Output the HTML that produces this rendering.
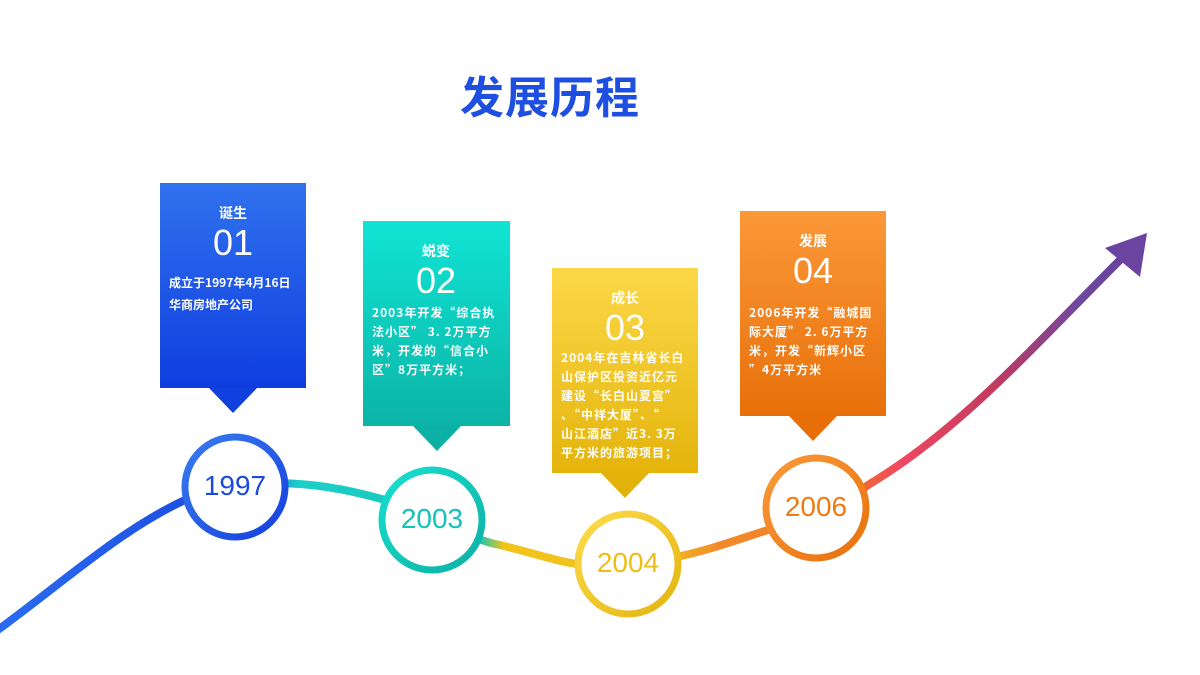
<!DOCTYPE html>
<html><head><meta charset="utf-8"><style>
html,body{margin:0;padding:0;background:#fff;}
body{width:1200px;height:675px;position:relative;overflow:hidden;font-family:"Liberation Sans","Noto Sans CJK SC",sans-serif;}
.title{position:absolute;left:0;width:1100px;top:62px;text-align:center;font-size:44px;font-weight:bold;color:#1f4fe0;letter-spacing:1px;}
.card{position:absolute;width:146px;height:205px;color:#fff;}
.card .h{position:absolute;top:20px;width:100%;text-align:center;font-size:14px;font-weight:bold;}
.card .n{position:absolute;top:36px;width:100%;text-align:center;font-size:36px;line-height:44px;}
.card .b{position:absolute;top:90px;left:9px;font-size:12px;font-weight:bold;line-height:19px;letter-spacing:1px;white-space:nowrap;font-family:"Noto Sans CJK SC",sans-serif;}
.yr{position:absolute;font-size:28px;text-align:center;width:120px;}
</style></head><body>
<div class="title">发展历程</div>
<svg width="1200" height="675" style="position:absolute;left:0;top:0">
<defs>
<linearGradient id="ln" x1="0" y1="0" x2="1200" y2="0" gradientUnits="userSpaceOnUse">
<stop offset="0" stop-color="#2a6cf0"/><stop offset="0.2" stop-color="#1a48e0"/>
<stop offset="0.25" stop-color="#1ccfc8"/><stop offset="0.4" stop-color="#18c4b4"/>
<stop offset="0.42" stop-color="#f2c418"/><stop offset="0.55" stop-color="#f0c020"/>
<stop offset="0.6" stop-color="#f28a2a"/><stop offset="0.7" stop-color="#f07a20"/>
<stop offset="0.75" stop-color="#f04860"/><stop offset="0.83" stop-color="#c03a60"/>
<stop offset="0.9" stop-color="#6e48a0"/><stop offset="1" stop-color="#5a3a90"/>
</linearGradient>
<linearGradient id="g1" x1="0" y1="0" x2="0" y2="1"><stop offset="0" stop-color="#3072ee"/><stop offset="1" stop-color="#0f3ddf"/></linearGradient>
<linearGradient id="g2" x1="0" y1="0" x2="0" y2="1"><stop offset="0" stop-color="#10e4d4"/><stop offset="1" stop-color="#0cb4a6"/></linearGradient>
<linearGradient id="g3" x1="0" y1="0" x2="0" y2="1"><stop offset="0" stop-color="#fcd848"/><stop offset="1" stop-color="#e4b40c"/></linearGradient>
<linearGradient id="g4" x1="0" y1="0" x2="0" y2="1"><stop offset="0" stop-color="#fb9838"/><stop offset="1" stop-color="#e8700a"/></linearGradient>
<linearGradient id="c1" x1="0" y1="0" x2="1" y2="1"><stop offset="0" stop-color="#3a7cf0"/><stop offset="1" stop-color="#1440de"/></linearGradient>
<linearGradient id="c2" x1="0" y1="0" x2="1" y2="1"><stop offset="0" stop-color="#18e0d0"/><stop offset="1" stop-color="#0cb0a4"/></linearGradient>
<linearGradient id="c3" x1="0" y1="0" x2="1" y2="1"><stop offset="0" stop-color="#fcdc4c"/><stop offset="1" stop-color="#e4b410"/></linearGradient>
<linearGradient id="c4" x1="0" y1="0" x2="1" y2="1"><stop offset="0" stop-color="#fb9a3a"/><stop offset="1" stop-color="#e8700c"/></linearGradient>
</defs>
<path d="M-5,632 C60,585 120,530 185,500 C230,480 300,475 385,500 C430,515 470,540 500,545 C540,555 560,562 578,564 C660,570 720,545 768,530 C820,515 850,500 868,485 C960,430 1030,350 1122,258" fill="none" stroke="url(#ln)" stroke-width="8" stroke-linecap="round"/>
<polygon points="1147,233 1105,248 1140,277" fill="#6a44a0"/>
<circle cx="235" cy="487" r="50" fill="#fff" stroke="url(#c1)" stroke-width="7"/>
<circle cx="432" cy="520" r="50" fill="#fff" stroke="url(#c2)" stroke-width="7"/>
<circle cx="628" cy="564" r="50" fill="#fff" stroke="url(#c3)" stroke-width="7"/>
<circle cx="816" cy="508" r="50" fill="#fff" stroke="url(#c4)" stroke-width="7"/>
<rect x="160" y="183" width="146" height="205" fill="url(#g1)"/>
<polygon points="209,388 257,388 233,413" fill="#1140df"/>
<rect x="363" y="221" width="147" height="205" fill="url(#g2)"/>
<polygon points="413,426 461,426 437,451" fill="#0cb0a4"/>
<rect x="552" y="268" width="146" height="205" fill="url(#g3)"/>
<polygon points="601,473 649,473 625,498" fill="#e2b20a"/>
<rect x="740" y="211" width="146" height="205" fill="url(#g4)"/>
<polygon points="789,416 837,416 813,441" fill="#e86e08"/>
</svg>
<div class="card" style="left:160px;top:183px"><div class="h">诞生</div><div class="n" style="top:38px">01</div><div class="b" style="line-height:22px;letter-spacing:0;top:89px">成立于1997年4月16日<br>华商房地产公司</div></div>
<div class="card" style="left:363px;top:221px"><div class="h">蜕变</div><div class="n" style="top:38px">02</div><div class="b" style="top:82px">2003年开发“综合执<br>法小区” 3. 2万平方<br>米，开发的“信合小<br>区”8万平方米；</div></div>
<div class="card" style="left:552px;top:268px"><div class="h">成长</div><div class="n" style="top:38px">03</div><div class="b" style="top:80px">2004年在吉林省长白<br>山保护区投资近亿元<br>建设“长白山夏宫”<br>、“中祥大厦”、“<br>山江酒店”近3. 3万<br>平方米的旅游项目；</div></div>
<div class="card" style="left:740px;top:211px"><div class="h">发展</div><div class="n" style="top:38px">04</div><div class="b" style="top:92px">2006年开发“融城国<br>际大厦” 2. 6万平方<br>米，开发“新辉小区<br>”4万平方米</div></div>
<div class="yr" style="left:175px;top:470px;color:#1a4ae0">1997</div>
<div class="yr" style="left:372px;top:503px;color:#12c4b6">2003</div>
<div class="yr" style="left:568px;top:547px;color:#eebe14">2004</div>
<div class="yr" style="left:756px;top:491px;color:#f07a14">2006</div>
</body></html>
